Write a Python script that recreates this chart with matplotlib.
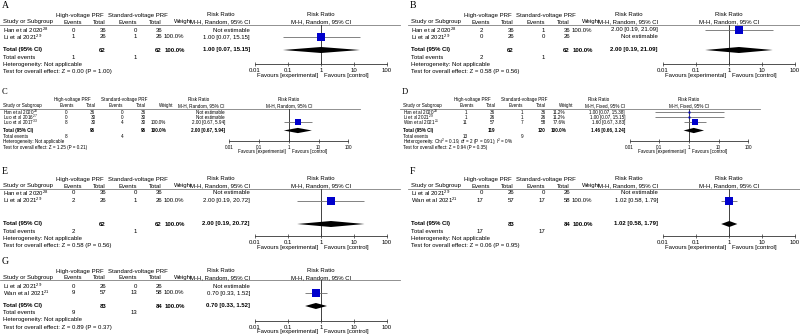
"""
Forest plots (A-G): high-voltage vs standard-voltage PRF, risk ratios.
"""

import matplotlib
matplotlib.use("Agg")
import matplotlib.pyplot as plt
import numpy as np

plt.rcParams['font.family'] = ['Liberation Sans', 'DejaVu Sans']
plt.rcParams['mathtext.fontset'] = 'custom'
plt.rcParams['mathtext.rm'] = 'Liberation Sans'
plt.rcParams['mathtext.it'] = 'Liberation Sans:italic'
plt.rcParams['mathtext.bf'] = 'Liberation Sans:bold'

# ---- data ----
A_studies = ["Han et al 2020", "Li et al 2021"]
A_refs = ["28", "29"]
A_hv_events = [0, 1]
A_hv_total = [36, 26]
A_sv_events = [0, 1]
A_sv_total = [36, 26]
A_weight = [None, 100.0]
A_rr = [None, 1.00]
A_lo = [None, 0.07]
A_hi = [None, 15.15]
A_pooled = [1.00, 0.07, 15.15]
A_het = "Heterogeneity: Not applicable"
A_test = "Test for overall effect: Z = 0.00 (P = 1.00)"

B_studies = ["Han et al 2020", "Li et al 2021"]
B_refs = ["28", "29"]
B_hv_events = [2, 0]
B_hv_total = [36, 26]
B_sv_events = [1, 0]
B_sv_total = [36, 26]
B_weight = [100.0, None]
B_rr = [2.00, None]
B_lo = [0.19, None]
B_hi = [21.09, None]
B_pooled = [2.00, 0.19, 21.09]
B_het = "Heterogeneity: Not applicable"
B_test = "Test for overall effect: Z = 0.58 (P = 0.56)"

C_studies = ["Han et al 2020", "Luo et al 2016", "Luo et al 2017"]
C_refs = ["28", "27", "33"]
C_hv_events = [0, 0, 8]
C_hv_total = [36, 30, 30]
C_sv_events = [0, 0, 4]
C_sv_total = [36, 30, 30]
C_weight = [None, None, 100.0]
C_rr = [None, None, 2.00]
C_lo = [None, None, 0.67]
C_hi = [None, None, 5.94]
C_pooled = [2.00, 0.67, 5.94]
C_het = "Heterogeneity: Not applicable"
C_test = "Test for overall effect: Z = 1.25 (P = 0.21)"

D_studies = ["Han et al 2020", "Li et al 2021", "Wan et al 2021"]
D_refs = ["28", "29", "21"]
D_hv_events = [1, 1, 11]
D_hv_total = [36, 26, 57]
D_sv_events = [1, 1, 7]
D_sv_total = [36, 26, 58]
D_weight = [11.2, 11.2, 77.6]
D_rr = [1.00, 1.00, 1.60]
D_lo = [0.07, 0.07, 0.67]
D_hi = [15.38, 15.15, 3.83]
D_pooled = [1.46, 0.66, 3.24]
D_het = "Heterogeneity: Chi$^2$ = 0.19, df = 2 (P = 0.91); I$^2$ = 0%"
D_test = "Test for overall effect: Z = 0.94 (P = 0.35)"

E_studies = ["Han et al 2020", "Li et al 2021"]
E_refs = ["28", "29"]
E_hv_events = [0, 2]
E_hv_total = [36, 26]
E_sv_events = [0, 1]
E_sv_total = [36, 26]
E_weight = [None, 100.0]
E_rr = [None, 2.00]
E_lo = [None, 0.19]
E_hi = [None, 20.72]
E_pooled = [2.00, 0.19, 20.72]
E_het = "Heterogeneity: Not applicable"
E_test = "Test for overall effect: Z = 0.58 (P = 0.56)"

F_studies = ["Li et al 2021", "Wan et al 2021"]
F_refs = ["29", "21"]
F_hv_events = [0, 17]
F_hv_total = [26, 57]
F_sv_events = [0, 17]
F_sv_total = [26, 58]
F_weight = [None, 100.0]
F_rr = [None, 1.02]
F_lo = [None, 0.58]
F_hi = [None, 1.79]
F_pooled = [1.02, 0.58, 1.79]
F_het = "Heterogeneity: Not applicable"
F_test = "Test for overall effect: Z = 0.06 (P = 0.95)"

G_studies = ["Li et al 2021", "Wan et al 2021"]
G_refs = ["29", "21"]
G_hv_events = [0, 9]
G_hv_total = [26, 57]
G_sv_events = [0, 13]
G_sv_total = [26, 58]
G_weight = [None, 100.0]
G_rr = [None, 0.70]
G_lo = [None, 0.33]
G_hi = [None, 1.52]
G_pooled = [0.70, 0.33, 1.52]
G_het = "Heterogeneity: Not applicable"
G_test = "Test for overall effect: Z = 0.89 (P = 0.37)"

tick_vals = [0.01, 0.1, 1, 10, 100]
tick_labels = ["0.01", "0.1", "1", "10", "100"]

W, H = 800, 336
BASE_FS = 4.3
SQ_BLUE = '#0000cc'
CI_GREY = '#6e6e6e'

# vertical layout of each block (pixel rows, top-down)
LAY_AB = dict(letter=5, h1=15, h2=22, line=24.5, row0=30, step=7, total=50,
              events=57.5, het=64.5, test=71.5, axis=64, fav=76, dh=3.0)
LAY_CD = dict(letter=92, h1=99.5, h2=105.5, line=108.5, row0=112.2, step=5.1,
              total=130.5, events=136.3, het=141.8, test=147.2, axis=141,
              fav=151, dh=2.6)
LAY_EF = dict(letter=171, h1=179, h2=186, line=188.5, row0=193, step=7.5,
              total=224, events=231.5, het=238.5, test=245.5, axis=236,
              fav=247.5, dh=3.0)
LAY_G = dict(letter=262, h1=271, h2=277.5, line=280, row0=286.5, step=6.5,
             total=306, events=313, het=320, test=328, axis=321, fav=332,
             dh=3.0)


def rr_text(rr, lo, hi):
    return f"{rr:.2f} [{lo:.2f}, {hi:.2f}]"


def draw_panel(fig, bg, letter, studies, refs, hv_ev, hv_n, sv_ev, sv_n,
               weight, rr, lo, hi, pooled, het, test, method, lay,
               x0, sx=1.0, fsc=1.0):
    fs = BASE_FS * fsc
    X = lambda x: x0 + x * sx

    n = len(studies)
    rows = [lay['row0'] + lay['step'] * i for i in range(n)]

    def t(x, y, s, ha='left', bold=False, size=fs, **kw):
        bg.text(X(x), y, s, ha=ha, va='center', fontsize=size,
                fontweight='bold' if bold else 'normal', **kw)

    # panel letter
    bg.text(X(2), lay['letter'], letter, ha='left', va='center',
            fontsize=7 * min(1.0, fsc + 0.1), family='Liberation Serif')

    # headers
    h1, h2 = lay['h1'], lay['h2']
    t(80, h1, "High-voltage PRF", ha='center')
    t(138, h1, "Standard-voltage PRF", ha='center')
    t(221, h1, "Risk Ratio", ha='center')
    t(321, h1, "Risk Ratio", ha='center')
    t(3, h2, "Study or Subgroup")
    t(82, h2, "Events", ha='right')
    t(106, h2, "Total", ha='right')
    t(137, h2, "Events", ha='right')
    t(162, h2, "Total", ha='right')
    t(193, h2, "Weight", ha='right')
    t(250, h2, f"M-H, {method}, 95% CI", ha='right')
    t(321, h2, f"M-H, {method}, 95% CI", ha='center')
    bg.plot([X(0), X(400)], [lay['line'], lay['line']], color='#7f7f7f',
            lw=0.6)

    # study rows
    for i in range(n):
        y = rows[i]
        t(3, y, f"{studies[i]}$^{{{refs[i]}}}$")
        t(75, y, str(hv_ev[i]), ha='right')
        t(106, y, str(hv_n[i]), ha='right')
        t(137, y, str(sv_ev[i]), ha='right')
        t(162, y, str(sv_n[i]), ha='right')
        if weight[i] is None:
            t(250, y, "Not estimable", ha='right')
        else:
            t(184, y, f"{weight[i]:.1f}%", ha='right')
            t(250, y, rr_text(rr[i], lo[i], hi[i]), ha='right')

    # totals
    ty = lay['total']
    t(3, ty, "Total (95% CI)", bold=True)
    t(106, ty, str(sum(hv_n)), ha='right', bold=True)
    t(162, ty, str(sum(sv_n)), ha='right', bold=True)
    t(185, ty, "100.0%", ha='right', bold=True)
    t(250, ty, rr_text(*pooled), ha='right', bold=True)
    t(3, lay['events'], "Total events")
    t(75, lay['events'], str(sum(hv_ev)), ha='right')
    t(137, lay['events'], str(sum(sv_ev)), ha='right')
    t(3, lay['het'], het)
    t(3, lay['test'], test)

    # forest plot axes
    left, right = X(255), X(387)
    top, bottom = lay['line'], lay['axis']
    ax = fig.add_axes([left / W, 1 - bottom / H, (right - left) / W,
                       (bottom - top) / H])
    ax.set_xscale('log')
    ax.set_xlim(0.01, 100)
    ax.set_ylim(bottom, top)
    ax.patch.set_alpha(0)
    for side in ['top', 'right', 'left']:
        ax.spines[side].set_visible(False)
    ax.spines['bottom'].set_linewidth(0.6)
    ax.spines['bottom'].set_color('#333333')
    ax.set_yticks([])
    ax.set_xticks(tick_vals)
    ax.set_xticklabels(tick_labels)
    ax.xaxis.set_minor_locator(matplotlib.ticker.NullLocator())
    ax.tick_params(axis='x', direction='inout', length=3.5, width=0.5,
                   pad=0.8, labelsize=fs, color='#333333')
    ax.axvline(1, color='#222222', lw=0.6)

    sq = 5.4 * fsc
    for i in range(n):
        if weight[i] is None:
            continue
        ax.plot([lo[i], hi[i]], [rows[i], rows[i]], color=CI_GREY, lw=0.6,
                solid_capstyle='butt', zorder=2)
        ax.plot([rr[i]], [rows[i]], marker='s',
                ms=sq * np.sqrt(weight[i] / 100),
                color=SQ_BLUE, mec=SQ_BLUE, mew=0, zorder=3)

    p, plo, phi = pooled
    dh = lay['dh']
    ax.fill([plo, p, phi, p], [ty, ty - dh, ty, ty + dh],
            color='black', lw=0, zorder=3)

    x1 = 255 + (387 - 255) / 2
    t(x1 - 3, lay['fav'], "Favours [experimental]", ha='right')
    t(x1 + 3, lay['fav'], "Favours [control]", ha='left')


fig = plt.figure(figsize=(W / 100, H / 100), dpi=100)
bg = fig.add_axes([0, 0, 1, 1])
bg.set_xlim(0, W)
bg.set_ylim(H, 0)
bg.axis('off')

draw_panel(fig, bg, "A", A_studies, A_refs, A_hv_events, A_hv_total,
           A_sv_events, A_sv_total, A_weight, A_rr, A_lo, A_hi, A_pooled,
           A_het, A_test, "Random", LAY_AB, x0=0)
draw_panel(fig, bg, "B", B_studies, B_refs, B_hv_events, B_hv_total,
           B_sv_events, B_sv_total, B_weight, B_rr, B_lo, B_hi, B_pooled,
           B_het, B_test, "Random", LAY_AB, x0=408)
draw_panel(fig, bg, "C", C_studies, C_refs, C_hv_events, C_hv_total,
           C_sv_events, C_sv_total, C_weight, C_rr, C_lo, C_hi, C_pooled,
           C_het, C_test, "Random", LAY_CD, x0=0, sx=0.9, fsc=0.78)
draw_panel(fig, bg, "D", D_studies, D_refs, D_hv_events, D_hv_total,
           D_sv_events, D_sv_total, D_weight, D_rr, D_lo, D_hi, D_pooled,
           D_het, D_test, "Fixed", LAY_CD, x0=400, sx=0.9, fsc=0.78)
draw_panel(fig, bg, "E", E_studies, E_refs, E_hv_events, E_hv_total,
           E_sv_events, E_sv_total, E_weight, E_rr, E_lo, E_hi, E_pooled,
           E_het, E_test, "Random", LAY_EF, x0=0)
draw_panel(fig, bg, "F", F_studies, F_refs, F_hv_events, F_hv_total,
           F_sv_events, F_sv_total, F_weight, F_rr, F_lo, F_hi, F_pooled,
           F_het, F_test, "Random", LAY_EF, x0=408)
draw_panel(fig, bg, "G", G_studies, G_refs, G_hv_events, G_hv_total,
           G_sv_events, G_sv_total, G_weight, G_rr, G_lo, G_hi, G_pooled,
           G_het, G_test, "Random", LAY_G, x0=0)

fig.savefig('out.png', dpi=100)
